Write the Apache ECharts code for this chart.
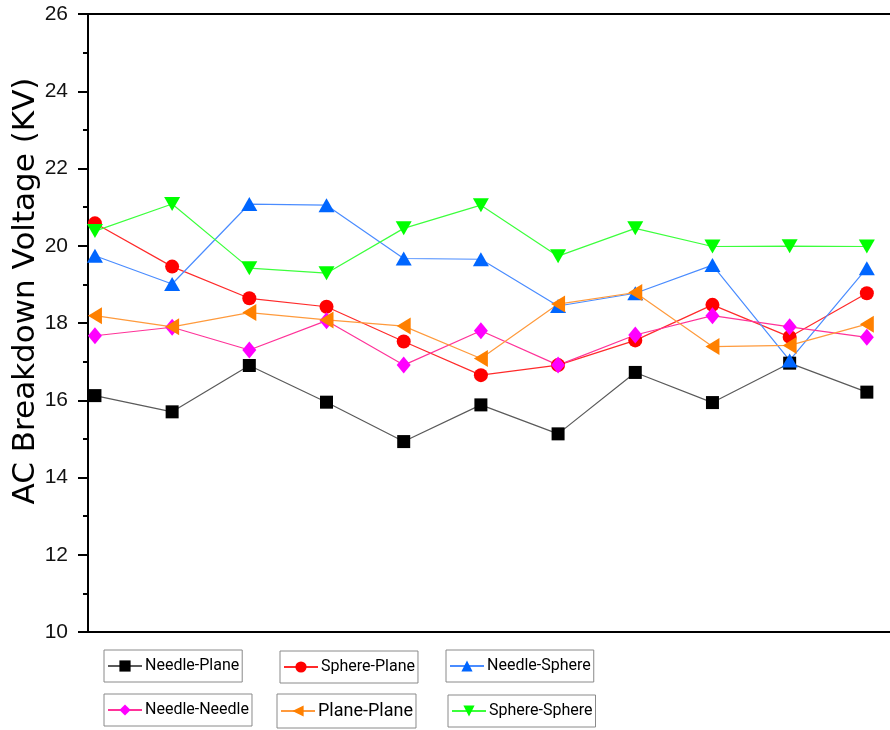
<!DOCTYPE html>
<html><head><meta charset="utf-8">
<script src="https://cdn.jsdelivr.net/npm/echarts@6/dist/echarts.min.js"></script>
<style>html,body{margin:0;padding:0;background:#fff}#c{width:890px;height:730px}</style>
</head><body><div id="c"></div>
<script>
const xs = [1,2,3,4,5,6,7,8,9,10,11];
const seriesNames = ['Needle-Plane','Sphere-Plane','Needle-Sphere','Needle-Needle','Plane-Plane','Sphere-Sphere'];
const needlePlane  = [16.12,15.70,16.90,15.95,14.93,15.88,15.13,16.72,15.94,16.96,16.21];
const spherePlane  = [20.58,19.46,18.64,18.42,17.52,16.65,16.91,17.55,18.47,17.64,18.77];
const needleSphere = [19.74,19.01,21.08,21.05,19.67,19.65,18.44,18.77,19.50,17.03,19.42];
const needleNeedle = [17.67,17.89,17.30,18.06,16.91,17.80,16.91,17.69,18.19,17.90,17.63];
const planePlane   = [18.19,17.90,18.27,18.08,17.92,17.08,18.49,18.79,17.39,17.42,17.97];
const sphereSphere = [20.38,21.08,19.42,19.29,20.45,21.05,19.73,20.45,19.98,19.99,19.98];
const yTicks = [10,12,14,16,18,20,22,24,26];

const values = [needlePlane, spherePlane, needleSphere, needleNeedle, planePlane, sphereSphere];
const styles = [
  {marker:'#000000', line:'#5a5a5a', symbol:'rect', size:13, rot:0},
  {marker:'#ff0000', line:'#ff2a2a', symbol:'circle', size:14, rot:0},
  {marker:'#0066ff', line:'#4a8cff', symbol:'triangle', size:[16,14], rot:0},
  {marker:'#ff00ff', line:'#ff3399', symbol:'diamond', size:[14,17], rot:0},
  {marker:'#ff8000', line:'#ff9a3c', symbol:'triangle', size:[17,14], rot:90},
  {marker:'#00ff00', line:'#3cff3c', symbol:'triangle', size:[16,14], rot:180}
];
const legendPos = [[104,650],[280,651],[446,650],[104,694],[277,694],[448,695]];
const legendFont = [16,16,16,16,18,16];

const chart = echarts.init(document.getElementById('c'), null, {renderer:'canvas'});
const option = {
  animation:false,
  backgroundColor:'#ffffff',
  grid:{left:88, top:14, right:0, bottom:98, containLabel:false, outerBoundsMode:'none'},
  xAxis:[{
    type:'value', min:0.91, max:11.3, position:'bottom',
    axisLine:{show:true, lineStyle:{color:'#000', width:2}},
    axisTick:{show:false}, axisLabel:{show:false}, splitLine:{show:false}
  },{
    type:'value', min:0.91, max:11.3, position:'top',
    axisLine:{show:true, lineStyle:{color:'#000', width:2}},
    axisTick:{show:false}, axisLabel:{show:false}, splitLine:{show:false}
  }],
  yAxis:{
    type:'value', min:yTicks[0], max:yTicks[yTicks.length-1], interval:2,
    name:'AC Breakdown Voltage (KV)', nameLocation:'middle', nameGap:47, nameMoveOverlap:false,
    nameTextStyle:{fontFamily:'DejaVu Sans', fontSize:31, color:'#000', padding:[0,0,0,64]},
    axisLine:{show:true, lineStyle:{color:'#000', width:2}},
    axisTick:{show:true, inside:false, length:10, lineStyle:{color:'#000', width:2}},
    minorTick:{show:true, splitNumber:2, length:5, lineStyle:{color:'#000', width:2}},
    axisLabel:{fontFamily:'Liberation Sans', fontSize:21, color:'#111', margin:20},
    splitLine:{show:false}
  },
  legend: seriesNames.map((n,i)=>({
    data:[n], left:legendPos[i][0], top:legendPos[i][1],
    orient:'horizontal', padding:[8,3,8,3], itemGap:0,
    itemWidth:34, itemHeight:14,
    borderColor:'#8a8a8a', borderWidth:1,
    textStyle:{fontFamily:'Roboto', fontSize:legendFont[i], color:'#000', padding:[0,0,0,-2]}
  })),
  series: seriesNames.map((n,i)=>({
    name:n, type:'line', xAxisIndex:0,
    data: xs.map((x,j)=>[x, values[i][j]]),
    symbol:styles[i].symbol, symbolSize:styles[i].size, symbolRotate:styles[i].rot,
    showAllSymbol:true,
    itemStyle:{color:styles[i].marker},
    lineStyle:{color:styles[i].line, width:1.2},
    emphasis:{disabled:true}
  }))
};
chart.setOption(option);
</script></body></html>
